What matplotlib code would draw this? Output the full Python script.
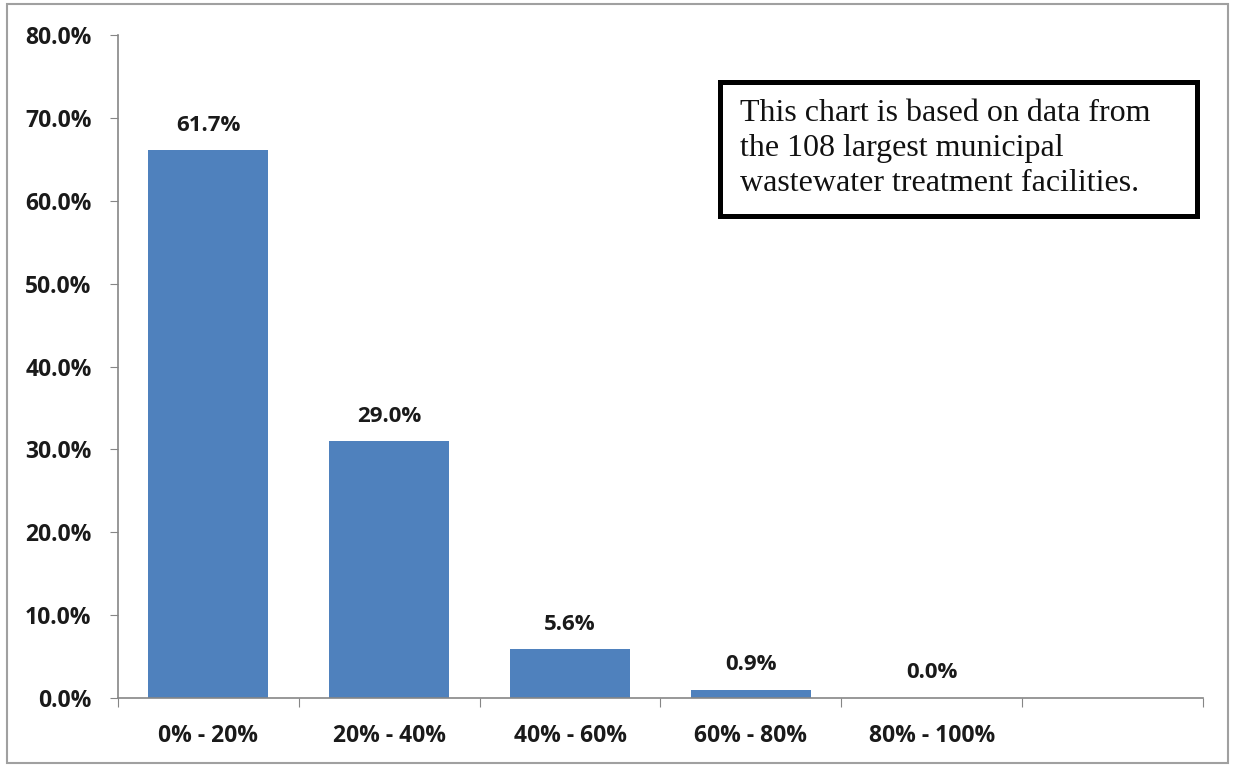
import matplotlib.pyplot as plt
from matplotlib.patches import Rectangle

categories = ["0% - 20%", "20% - 40%", "40% - 60%", "60% - 80%", "80% - 100%", ""]
heights = [66.1, 31.0, 5.9, 1.0, 0.0]
labels = ["61.7%", "29.0%", "5.6%", "0.9%", "0.0%"]
yticks = [0, 10, 20, 30, 40, 50, 60, 70, 80]
note = "This chart is based on data from\nthe 108 largest municipal\nwastewater treatment facilities."

fig = plt.figure(figsize=(12.35, 7.65), dpi=100)
fig.patches.append(Rectangle((0.006, 0.003), 0.988, 0.992, transform=fig.transFigure,
                             fill=False, edgecolor="#a0a0a0", linewidth=1.5))
ax = fig.add_axes([0.0955, 0.0876, 0.8785, 0.8666])

x = range(len(heights))
ax.bar(x, heights, width=0.663, color="#4F81BD")
for i, (h, lab) in enumerate(zip(heights, labels)):
    ax.annotate(lab, (i, h), xytext=(0, 18), textcoords="offset points",
                ha="center", va="center", fontsize=16, fontweight="bold",
                family="Open Sans", color="#1a1a1a")

ax.set_xlim(-0.5, len(categories) - 0.5)
ax.set_ylim(0, 80)
ax.set_yticks(yticks)
ax.set_yticklabels([f"{v:.1f}%" for v in yticks], fontsize=16.5, fontweight="bold",
                   family="Open Sans", color="#1a1a1a")
ax.set_xticks([i + 0.5 for i in range(-1, len(categories))])
ax.set_xticklabels([])
ax.set_xticks(range(len(categories)), minor=True)
ax.set_xticklabels(categories, minor=True, fontsize=16.5, fontweight="bold",
                   family="Open Sans", color="#1a1a1a")
ax.tick_params(axis="x", which="minor", length=0, pad=19)
ax.tick_params(axis="x", which="major", length=6.5, color="#868686", direction="out")
ax.tick_params(axis="y", length=6, color="#868686", pad=13)

for s in ["top", "right"]:
    ax.spines[s].set_visible(False)
for s in ["left", "bottom"]:
    ax.spines[s].set_color("#868686")
    ax.spines[s].set_linewidth(1.2)

# note box
ax.add_patch(Rectangle((0.555, 0.727), 0.44, 0.202, transform=ax.transAxes,
                       fill=False, edgecolor="black", linewidth=3.6, clip_on=False))
ax.text(0.573, 0.829, note, transform=ax.transAxes, ha="left", va="center",
        fontsize=23, family="Liberation Serif", linespacing=1.28, color="#111111")

fig.savefig("out.png", dpi=100)
